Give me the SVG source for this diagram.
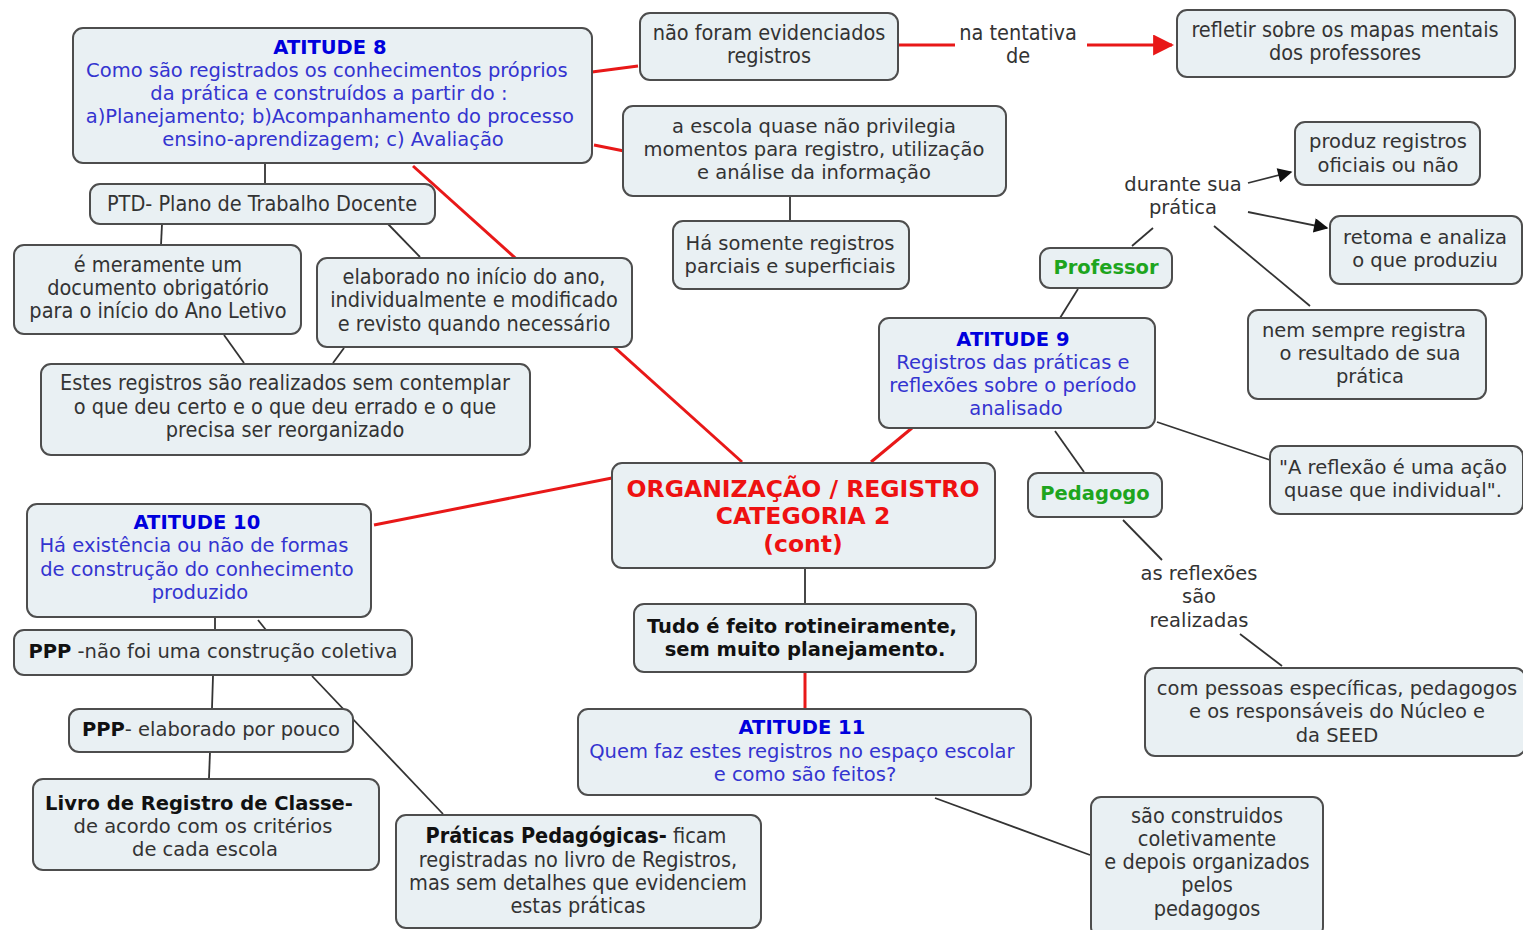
<svg xmlns="http://www.w3.org/2000/svg" width="1523" height="930" viewBox="0 0 1523 930">
  <defs>
    <style>
      .box { fill: #e9f0f3; stroke: #4d4d4d; stroke-width: 2; }
      .t { font-family: "DejaVu Sans", Verdana, sans-serif; font-size: 19.5px; fill: #333333; text-anchor: middle; }
      .tc { font-family: "DejaVu Sans Condensed", "DejaVu Sans", sans-serif; font-stretch: condensed; font-size: 21.5px; fill: #333333; text-anchor: middle; }
      .b { font-weight: bold; }
      .title { font-weight: bold; fill: #0000dd; }
      .blue { fill: #3434d0; }
      .green { font-weight: bold; fill: #1ea51e; }
      .red { font-family: "DejaVu Sans", Verdana, sans-serif; font-weight: bold; font-size: 23.5px; fill: #ee1111; text-anchor: middle; }
      .blk { fill: #111111; }
      .lk { stroke: #333333; stroke-width: 1.8; fill: none; }
      .lr { stroke: #e81818; stroke-width: 3; fill: none; }
    </style>
    <marker id="arrowBlack" viewBox="0 0 10 10" refX="9" refY="5" markerWidth="10" markerHeight="8" markerUnits="strokeWidth" orient="auto">
      <path d="M0,0 L10,5 L0,10 z" fill="#111111"/>
    </marker>
    <marker id="arrowRed" viewBox="0 0 10 10" refX="9" refY="5" markerWidth="7" markerHeight="7" markerUnits="strokeWidth" orient="auto">
      <path d="M0,0 L10,5 L0,10 z" fill="#e81818"/>
    </marker>
  </defs>

  <rect width="1523" height="930" fill="#ffffff"/>

  <!-- connectors -->
  <g id="connectors">
    <!-- red links -->
    <line class="lr" x1="592" y1="72" x2="638" y2="66"/>
    <line class="lr" x1="594" y1="145" x2="624" y2="151"/>
    <line class="lr" x1="413" y1="166" x2="742" y2="462"/>
    <line class="lr" x1="912" y1="428" x2="871" y2="462"/>
    <line class="lr" x1="374" y1="525" x2="612" y2="478"/>
    <line class="lr" x1="898" y1="45" x2="955" y2="45"/>
    <line class="lr" x1="1087" y1="45" x2="1172" y2="45" marker-end="url(#arrowRed)"/>
    <line class="lr" x1="805" y1="672" x2="805" y2="709"/>
    <!-- dark links -->
    <line class="lk" x1="265" y1="163" x2="265" y2="184"/>
    <line class="lk" x1="162" y1="224" x2="161" y2="245"/>
    <line class="lk" x1="388" y1="224" x2="420" y2="257"/>
    <line class="lk" x1="224" y1="335" x2="244" y2="363"/>
    <line class="lk" x1="344" y1="348" x2="333" y2="363"/>
    <line class="lk" x1="790" y1="196" x2="790" y2="221"/>
    <line class="lk" x1="1132" y1="246" x2="1153" y2="228"/>
    <line class="lk" x1="1060" y1="318" x2="1078" y2="289"/>
    <line class="lk" x1="1248" y1="183" x2="1291" y2="172" marker-end="url(#arrowBlack)"/>
    <line class="lk" x1="1248" y1="212" x2="1327" y2="228" marker-end="url(#arrowBlack)"/>
    <line class="lk" x1="1214" y1="226" x2="1310" y2="306"/>
    <line class="lk" x1="1157" y1="422" x2="1270" y2="460"/>
    <line class="lk" x1="1055" y1="431" x2="1084" y2="472"/>
    <line class="lk" x1="1123" y1="520" x2="1162" y2="560"/>
    <line class="lk" x1="1240" y1="634" x2="1282" y2="666"/>
    <line class="lk" x1="805" y1="569" x2="805" y2="604"/>
    <line class="lk" x1="215" y1="617" x2="215" y2="630"/>
    <line class="lk" x1="258" y1="620" x2="266" y2="630"/>
    <line class="lk" x1="213" y1="676" x2="212" y2="708"/>
    <line class="lk" x1="312" y1="676" x2="443" y2="814"/>
    <line class="lk" x1="210" y1="752" x2="209" y2="778"/>
    <line class="lk" x1="935" y1="798" x2="1090" y2="855"/>
  </g>

  <!-- linking phrases -->
  <g id="label-na-tentativa">
    <text class="tc"><tspan x="1018" y="40">na tentativa</tspan><tspan x="1018" y="63">de</tspan></text>
  </g>
  <g id="label-durante">
    <text class="t"><tspan x="1183" y="191">durante sua</tspan><tspan x="1183" y="214">prática</tspan></text>
  </g>
  <g id="label-reflexoes">
    <text class="t"><tspan x="1199" y="580">as reflexões</tspan><tspan x="1199" y="603">são</tspan><tspan x="1199" y="627">realizadas</tspan></text>
  </g>

  <!-- concepts -->
  <g id="atitude8">
    <rect class="box" x="73" y="28" width="519" height="135" rx="10"/>
    <text class="t">
      <tspan class="title" x="333" y="54">ATITUDE 8</tspan>
      <tspan class="blue" x="330" y="77">Como são registrados os conhecimentos próprios</tspan>
      <tspan class="blue" x="332" y="100">da prática e construídos a partir do :</tspan>
      <tspan class="blue" x="333" y="123">a)Planejamento; b)Acompanhamento do processo</tspan>
      <tspan class="blue" x="333" y="146">ensino-aprendizagem; c) Avaliação</tspan>
    </text>
  </g>

  <g id="nao-foram">
    <rect class="box" x="640" y="13" width="258" height="67" rx="10"/>
    <text class="tc"><tspan x="769" y="40">não foram evidenciados</tspan><tspan x="769" y="63">registros</tspan></text>
  </g>

  <g id="refletir">
    <rect class="box" x="1177" y="10" width="338" height="67" rx="10"/>
    <text class="tc"><tspan x="1345" y="37">refletir sobre os mapas mentais</tspan><tspan x="1345" y="60">dos professores</tspan></text>
  </g>

  <g id="escola">
    <rect class="box" x="623" y="106" width="383" height="90" rx="10"/>
    <text class="t"><tspan x="814" y="133">a escola quase não privilegia</tspan><tspan x="814" y="156">momentos para registro, utilização</tspan><tspan x="814" y="179">e análise da informação</tspan></text>
  </g>

  <g id="ha-somente">
    <rect class="box" x="673" y="221" width="236" height="68" rx="10"/>
    <text class="t"><tspan x="790" y="250">Há somente registros</tspan><tspan x="790" y="273">parciais e superficiais</tspan></text>
  </g>

  <g id="ptd">
    <rect class="box" x="90" y="184" width="345" height="40" rx="10"/>
    <text class="tc"><tspan x="262" y="211">PTD- Plano de Trabalho Docente</tspan></text>
  </g>

  <g id="meramente">
    <rect class="box" x="14" y="245" width="287" height="89" rx="10"/>
    <text class="tc"><tspan x="158" y="272">é meramente um</tspan><tspan x="158" y="295">documento obrigatório</tspan><tspan x="158" y="318">para o início do Ano Letivo</tspan></text>
  </g>

  <g id="elaborado">
    <rect class="box" x="317" y="258" width="315" height="89" rx="10"/>
    <text class="tc"><tspan x="474" y="284">elaborado no início do ano,</tspan><tspan x="474" y="307">individualmente e modificado</tspan><tspan x="474" y="331">e revisto quando necessário</tspan></text>
  </g>

  <g id="estes-registros">
    <rect class="box" x="41" y="364" width="489" height="91" rx="10"/>
    <text class="tc"><tspan x="285" y="390">Estes registros são realizados sem contemplar</tspan><tspan x="285" y="414">o que deu certo e o que deu errado e o que</tspan><tspan x="285" y="437">precisa ser reorganizado</tspan></text>
  </g>

  <g id="central">
    <rect class="box" x="612" y="463" width="383" height="105" rx="10"/>
    <text class="red"><tspan x="803" y="497">ORGANIZAÇÃO / REGISTRO</tspan><tspan x="803" y="524">CATEGORIA 2</tspan><tspan x="803" y="552">(cont)</tspan></text>
  </g>

  <g id="atitude9">
    <rect class="box" x="879" y="318" width="276" height="110" rx="10"/>
    <text class="t">
      <tspan class="title" x="1016" y="346">ATITUDE 9</tspan>
      <tspan class="blue" x="1016" y="369">Registros das práticas e</tspan>
      <tspan class="blue" x="1016" y="392">reflexões sobre o período</tspan>
      <tspan class="blue" x="1016" y="415">analisado</tspan>
    </text>
  </g>

  <g id="professor">
    <rect class="box" x="1040" y="248" width="132" height="40" rx="10"/>
    <text class="t green"><tspan x="1106" y="274">Professor</tspan></text>
  </g>

  <g id="produz">
    <rect class="box" x="1295" y="122" width="185" height="63" rx="10"/>
    <text class="t"><tspan x="1388" y="148">produz registros</tspan><tspan x="1388" y="172">oficiais ou não</tspan></text>
  </g>

  <g id="retoma">
    <rect class="box" x="1330" y="216" width="192" height="68" rx="10"/>
    <text class="t"><tspan x="1425" y="244">retoma e analiza</tspan><tspan x="1425" y="267">o que produziu</tspan></text>
  </g>

  <g id="nem-sempre">
    <rect class="box" x="1248" y="310" width="238" height="89" rx="10"/>
    <text class="t"><tspan x="1364" y="337">nem sempre registra</tspan><tspan x="1370" y="360">o resultado de sua</tspan><tspan x="1370" y="383">prática</tspan></text>
  </g>

  <g id="reflexao-individual">
    <rect class="box" x="1270" y="446" width="253" height="68" rx="10"/>
    <text class="t"><tspan x="1393" y="474">"A reflexão é uma ação</tspan><tspan x="1393" y="497">quase que individual".</tspan></text>
  </g>

  <g id="pedagogo">
    <rect class="box" x="1028" y="473" width="134" height="44" rx="10"/>
    <text class="t green"><tspan x="1095" y="500">Pedagogo</tspan></text>
  </g>

  <g id="pessoas">
    <rect class="box" x="1145" y="668" width="380" height="88" rx="10"/>
    <text class="t"><tspan x="1337" y="695">com pessoas específicas, pedagogos</tspan><tspan x="1337" y="718">e os responsáveis do Núcleo e</tspan><tspan x="1337" y="742">da SEED</tspan></text>
  </g>

  <g id="atitude10">
    <rect class="box" x="27" y="504" width="344" height="113" rx="10"/>
    <text class="t">
      <tspan class="title" x="200" y="529">ATITUDE 10</tspan>
      <tspan class="blue" x="197" y="552">Há existência ou não de formas</tspan>
      <tspan class="blue" x="200" y="576">de construção do conhecimento</tspan>
      <tspan class="blue" x="200" y="599">produzido</tspan>
    </text>
  </g>

  <g id="ppp-coletiva">
    <rect class="box" x="14" y="630" width="398" height="45" rx="10"/>
    <text class="t"><tspan x="213" y="658"><tspan class="b blk">PPP</tspan> -não foi uma construção coletiva</tspan></text>
  </g>

  <g id="ppp-pouco">
    <rect class="box" x="69" y="709" width="284" height="43" rx="10"/>
    <text class="t"><tspan x="211" y="736"><tspan class="b blk">PPP</tspan>- elaborado por pouco</tspan></text>
  </g>

  <g id="livro-registro">
    <rect class="box" x="33" y="779" width="346" height="91" rx="10"/>
    <text class="t"><tspan class="b blk" x="199" y="810">Livro de Registro de Classe-</tspan><tspan x="203" y="833">de acordo com os critérios</tspan><tspan x="205" y="856">de cada escola</tspan></text>
  </g>

  <g id="praticas">
    <rect class="box" x="396" y="815" width="365" height="113" rx="10"/>
    <text class="tc"><tspan x="576" y="843"><tspan class="b blk">Práticas Pedagógicas-</tspan> ficam</tspan><tspan x="578" y="867">registradas no livro de Registros,</tspan><tspan x="578" y="890">mas sem detalhes que evidenciem</tspan><tspan x="578" y="913">estas práticas</tspan></text>
  </g>

  <g id="tudo-feito">
    <rect class="box" x="634" y="604" width="342" height="68" rx="10"/>
    <text class="t b blk"><tspan x="802" y="633">Tudo é feito rotineiramente,</tspan><tspan x="805" y="656">sem muito planejamento.</tspan></text>
  </g>

  <g id="atitude11">
    <rect class="box" x="578" y="709" width="453" height="86" rx="10"/>
    <text class="t">
      <tspan class="title" x="805" y="734">ATITUDE 11</tspan>
      <tspan class="blue" x="805" y="758">Quem faz estes registros no espaço escolar</tspan>
      <tspan class="blue" x="805" y="781">e como são feitos?</tspan>
    </text>
  </g>

  <g id="construidos">
    <rect class="box" x="1091" y="797" width="232" height="140" rx="10"/>
    <text class="tc"><tspan x="1207" y="823">são construidos</tspan><tspan x="1207" y="846">coletivamente</tspan><tspan x="1207" y="869">e depois organizados</tspan><tspan x="1207" y="892">pelos</tspan><tspan x="1207" y="916">pedagogos</tspan></text>
  </g>
</svg>
